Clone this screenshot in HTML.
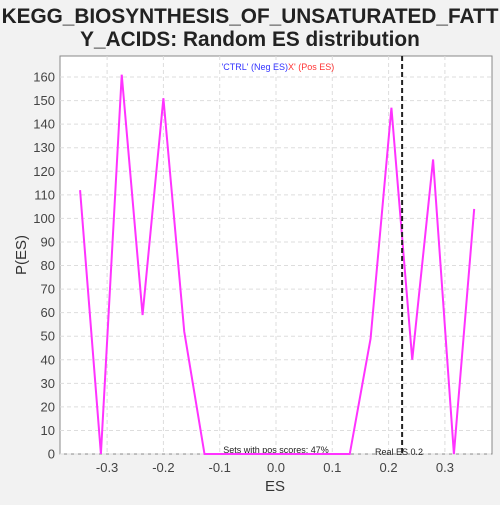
<!DOCTYPE html>
<html><head><meta charset="utf-8"><style>
body{margin:0;background:#f2f2f2;width:500px;height:500px;overflow:hidden;font-family:"Liberation Sans",sans-serif}
</style></head><body>
<svg id="c" width="500" height="500">
<text x="250" y="23" text-anchor="middle" font-size="20.8" font-weight="bold" fill="#222">KEGG_BIOSYNTHESIS_OF_UNSATURATED_FATT</text>
<text x="250" y="46" text-anchor="middle" font-size="20.8" font-weight="bold" fill="#222">Y_ACIDS: Random ES distribution</text>
<rect x="60" y="56" width="432" height="398" fill="#fff" stroke="#888"/>
<g id="grid"></g><g id="ticks"></g>
<text x="275" y="491" text-anchor="middle" font-size="15" fill="#333">ES</text>
<text x="26" y="255" text-anchor="middle" font-size="15" fill="#333" transform="rotate(-90 26 255)">P(ES)</text>
<text x="288" y="70" text-anchor="end" font-size="9" fill="#3333ff">'CTRL' (Neg ES)</text>
<text x="288" y="70" font-size="9" fill="#ff3333">X' (Pos ES)</text>
<text x="276" y="453" text-anchor="middle" font-size="9" fill="#222">Sets with pos scores: 47%</text>
<text x="375" y="455" font-size="9" fill="#222">Real ES 0.2</text>
</svg>
<script>
const xs=[-0.348,-0.311,-0.274,-0.237,-0.2,-0.163,-0.127,-0.09,-0.053,-0.016,0.021,0.058,0.095,0.131,0.168,0.205,0.242,0.279,0.316,0.352];
const ys=[112,0,161,59,151,52,0,0,0,0,0,0,0,0,49,147,40,125,0,104];
const xTicks=[-0.3,-0.2,-0.1,0,0.1,0.2,0.3];
const yTicks=[0,10,20,30,40,50,60,70,80,90,100,110,120,130,140,150,160];
const realES=0.224;
const X=v=>276+v*563, Y=v=>454-v*2.356;
const s=document.getElementById('c'),g=document.getElementById('grid'),t=document.getElementById('ticks');
const ns='http://www.w3.org/2000/svg';
function mk(p,tag,a){const e=document.createElementNS(ns,tag);for(const k in a)e.setAttribute(k,a[k]);p.appendChild(e);return e;}
xTicks.forEach(v=>{
 const l=mk(g,'line',{x1:X(v),x2:X(v),y1:56,y2:454,stroke:'#ddd','stroke-dasharray':'4,3'});
 
 
 const tx=mk(t,'text',{x:X(v),y:472,'text-anchor':'middle','font-size':13,fill:'#444'});tx.textContent=v.toFixed(1);
 
 
});
yTicks.forEach(v=>{
 const l=mk(g,'line',{x1:60,x2:492,y1:Y(v),y2:Y(v),stroke:'#ddd','stroke-dasharray':'4,3'});
 
 
 const tx=mk(t,'text',{x:55,y:Y(v)+4.5,'text-anchor':'end','font-size':13,fill:'#444'});tx.textContent=v;
 
 
});
const pl=mk(s,'polyline',{points:xs.map((x,i)=>X(x)+','+Y(ys[i])).join(' '),fill:'none',stroke:'#ff33ff','stroke-width':2});


const rl=mk(s,'line',{x1:X(realES),x2:X(realES),y1:56,y2:454,stroke:'#222','stroke-width':2,'stroke-dasharray':'5,3'});


</script>
</body></html>
